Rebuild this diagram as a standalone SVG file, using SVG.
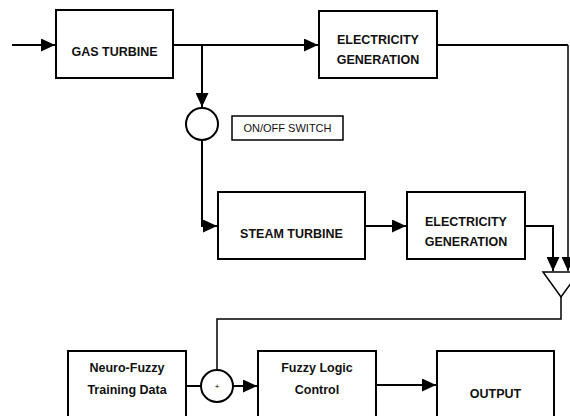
<svg xmlns="http://www.w3.org/2000/svg" width="570" height="416" viewBox="0 0 570 416">
<style>
.box{fill:#fff;stroke:#000;stroke-width:2}
.t{font-family:"Liberation Sans",Arial,sans-serif;font-weight:bold;font-size:12.5px;text-anchor:middle;fill:#111}
.s{font-family:"Liberation Sans",Arial,sans-serif;font-size:11px;text-anchor:middle;fill:#111}
.c{fill:none;stroke:#000;stroke-width:2}
.thin{fill:none;stroke:#000;stroke-width:1.5}
</style>
<defs>
<marker id="ah" markerUnits="userSpaceOnUse" markerWidth="15" markerHeight="13" refX="14" refY="6.5" orient="auto">
<path d="M0,0 L14,6.5 L0,13 Z" fill="#000"/>
</marker>
</defs>
<rect width="570" height="416" fill="#fff"/>
<g id="connectors">
<line class="c" x1="12" y1="45" x2="55" y2="45" marker-end="url(#ah)"/>
<line class="c" x1="173" y1="45" x2="318" y2="45" marker-end="url(#ah)"/>
<line class="c" x1="202" y1="45" x2="202" y2="107" marker-end="url(#ah)"/>
<polyline class="c" points="202,140 202,226 217,226" marker-end="url(#ah)"/>
<line class="c" x1="365" y1="226" x2="406" y2="226" marker-end="url(#ah)"/>
<line class="c" x1="437" y1="45" x2="568" y2="45"/>
<line class="thin" x1="568" y1="45" x2="568" y2="271" marker-end="url(#ah)"/>
<polyline class="c" points="525,226 553,226 553,271" marker-end="url(#ah)"/>
<polyline class="thin" points="561,297 561,319 217,319 217,370"/>
<line class="c" x1="186" y1="386" x2="201" y2="386"/>
<line class="c" x1="233" y1="386" x2="257" y2="386" marker-end="url(#ah)"/>
<line class="c" x1="376" y1="385" x2="436" y2="385" marker-end="url(#ah)"/>
</g>
<g id="gas-turbine"><rect class="box" x="56" y="10" width="117" height="68"/><text class="t" x="114.5" y="56">GAS TURBINE</text></g>
<g id="elec-gen-1"><rect class="box" x="319" y="11" width="118" height="67"/><text class="t" x="378" y="44">ELECTRICITY</text><text class="t" x="378" y="64">GENERATION</text></g>
<g id="switch"><circle class="box" cx="202" cy="124" r="16"/></g>
<g id="switch-label"><rect fill="#fff" stroke="#000" stroke-width="1.5" x="232" y="116" width="111" height="24"/><text class="s" x="287.5" y="132">ON/OFF SWITCH</text></g>
<g id="steam-turbine"><rect class="box" x="218" y="192" width="147" height="67"/><text class="t" x="291.5" y="238">STEAM TURBINE</text></g>
<g id="elec-gen-2"><rect class="box" x="407" y="192" width="118" height="67"/><text class="t" x="466" y="226">ELECTRICITY</text><text class="t" x="466" y="246">GENERATION</text></g>
<g id="combiner"><polygon fill="#fff" stroke="#000" stroke-width="1.5" points="543,272 579,272 561,297"/></g>
<g id="neuro-fuzzy"><rect class="box" x="68" y="351" width="118" height="75"/><text class="t" x="127" y="372">Neuro-Fuzzy</text><text class="t" x="127" y="394">Training Data</text></g>
<g id="sum"><circle class="box" cx="217" cy="386" r="16"/><text x="217" y="389" font-family="Liberation Sans,Arial,sans-serif" font-size="8" text-anchor="middle">+</text></g>
<g id="fuzzy-logic"><rect class="box" x="258" y="351" width="118" height="75"/><text class="t" x="317" y="372">Fuzzy Logic</text><text class="t" x="317" y="394">Control</text></g>
<g id="output"><rect class="box" x="437" y="351" width="117" height="75"/><text class="t" x="495.5" y="398">OUTPUT</text></g>
</svg>
